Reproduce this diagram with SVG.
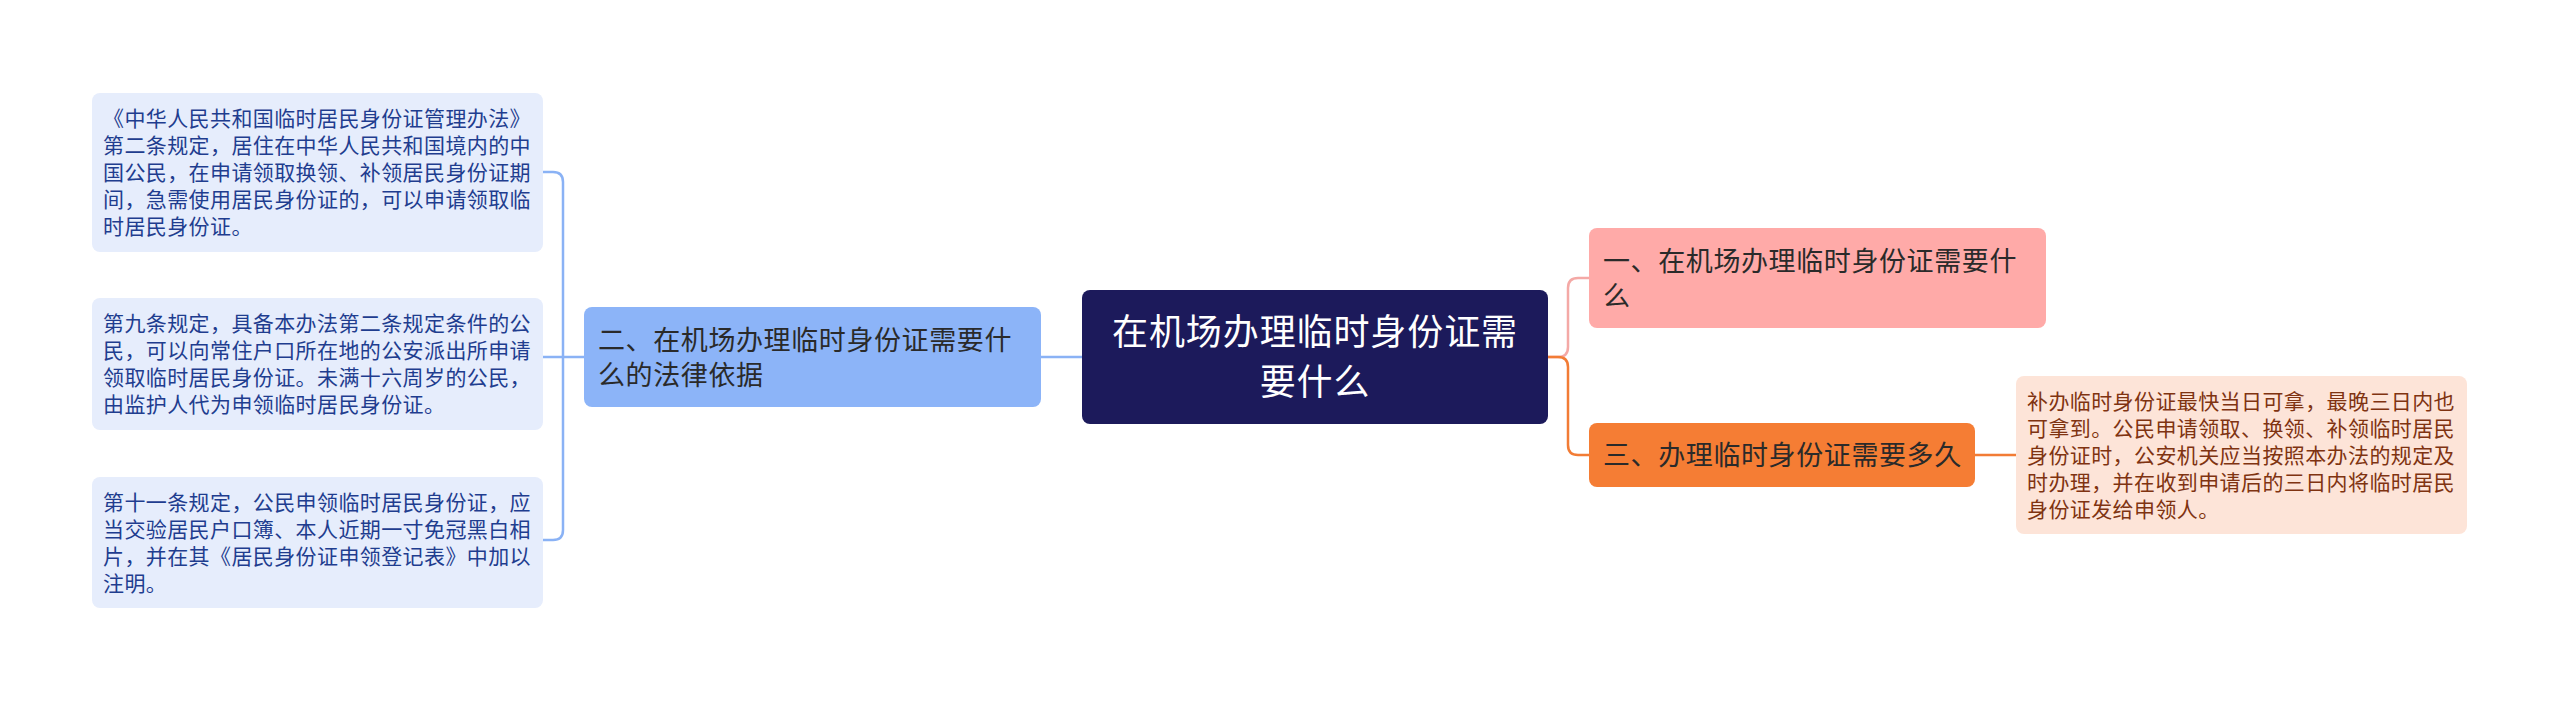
<svg xmlns="http://www.w3.org/2000/svg" width="2560" height="701" viewBox="0 0 2560 701">
<style>
text{font-family:"Noto Sans CJK SC","Noto Sans",sans-serif;}
.leafL rect{fill:#E6EDFC;}
.leafL text{fill:#1F3D8F;font-size:21px;letter-spacing:0.4px;}
.leafR rect{fill:#FDE4D8;}
.leafR text{fill:#7F3311;font-size:21px;letter-spacing:0.4px;}
.lvl text{fill:#2A2A2A;font-size:27px;letter-spacing:0.6px;}
.blue{stroke:#8AB2F5;}
.pink{stroke:#F4A9A6;}
.orange{stroke:#F27C35;}
#connectors path{fill:none;stroke-width:2.5;}
</style>
<rect width="2560" height="701" fill="#FFFFFF"/>
<g id="connectors">
<path class="blue" d="M1082 357 H1041"/>
<path class="blue" d="M584 357 H563"/>
<path class="blue" d="M543 172 H553 Q563 172 563 182 V530 Q563 540 553 540 H543"/>
<path class="blue" d="M543 357 H563"/>
<path class="pink" d="M1548 357 H1558 Q1568 357 1568 347 V288 Q1568 278 1578 278 H1589"/>
<path class="orange" d="M1548 357 H1558 Q1568 357 1568 367 V445 Q1568 455 1578 455 H1589"/>
<path class="orange" d="M1975 455 H2016"/>
</g>
<g id="center">
<rect x="1082" y="290" width="466" height="134" rx="8" fill="#1C1A5B"/>
<text x="1315" y="345" text-anchor="middle" font-size="36" fill="#FFFFFF" letter-spacing="0.9">在机场办理临时身份证需</text>
<text x="1315" y="395" text-anchor="middle" font-size="36" fill="#FFFFFF" letter-spacing="0.9">要什么</text>
</g>
<g id="node-er" class="lvl">
<rect x="584" y="307" width="457" height="100" rx="8" fill="#8CB4F8"/>
<text x="598" y="349.5">二、在机场办理临时身份证需要什</text>
<text x="598" y="384.5">么的法律依据</text>
</g>
<g id="node-yi" class="lvl">
<rect x="1589" y="228" width="457" height="100" rx="8" fill="#FFAAA8"/>
<text x="1603" y="270.5">一、在机场办理临时身份证需要什</text>
<text x="1603" y="305.5">么</text>
</g>
<g id="node-san" class="lvl">
<rect x="1589" y="423" width="386" height="64" rx="8" fill="#F57D34"/>
<text x="1603" y="465">三、办理临时身份证需要多久</text>
</g>
<g id="leaf-1" class="leafL">
<rect x="92" y="93" width="451" height="159" rx="8"/>
<text x="103" y="126">《中华人民共和国临时居民身份证管理办法》</text>
<text x="103" y="153">第二条规定，居住在中华人民共和国境内的中</text>
<text x="103" y="180">国公民，在申请领取换领、补领居民身份证期</text>
<text x="103" y="207">间，急需使用居民身份证的，可以申请领取临</text>
<text x="103" y="234">时居民身份证。</text>
</g>
<g id="leaf-2" class="leafL">
<rect x="92" y="298" width="451" height="132" rx="8"/>
<text x="103" y="331">第九条规定，具备本办法第二条规定条件的公</text>
<text x="103" y="358">民，可以向常住户口所在地的公安派出所申请</text>
<text x="103" y="385">领取临时居民身份证。未满十六周岁的公民，</text>
<text x="103" y="412">由监护人代为申领临时居民身份证。</text>
</g>
<g id="leaf-3" class="leafL">
<rect x="92" y="477" width="451" height="131" rx="8"/>
<text x="103" y="509.5">第十一条规定，公民申领临时居民身份证，应</text>
<text x="103" y="536.5">当交验居民户口簿、本人近期一寸免冠黑白相</text>
<text x="103" y="563.5">片，并在其《居民身份证申领登记表》中加以</text>
<text x="103" y="590.5">注明。</text>
</g>
<g id="leaf-r" class="leafR">
<rect x="2016" y="376" width="451" height="158" rx="8"/>
<text x="2027" y="408.5">补办临时身份证最快当日可拿，最晚三日内也</text>
<text x="2027" y="435.5">可拿到。公民申请领取、换领、补领临时居民</text>
<text x="2027" y="462.5">身份证时，公安机关应当按照本办法的规定及</text>
<text x="2027" y="489.5">时办理，并在收到申请后的三日内将临时居民</text>
<text x="2027" y="516.5">身份证发给申领人。</text>
</g>
</svg>
